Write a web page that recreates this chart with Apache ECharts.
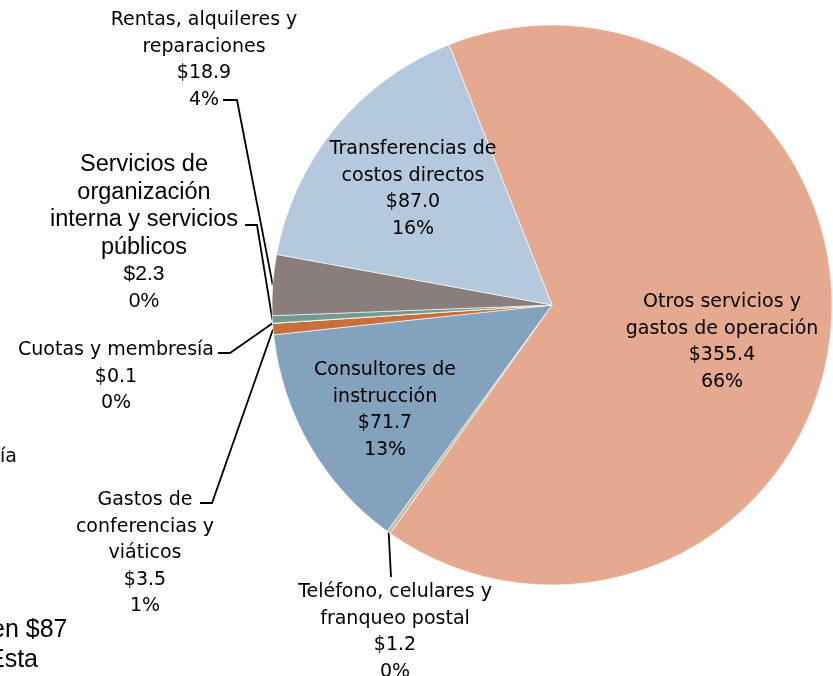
<!DOCTYPE html>
<html>
<head>
<meta charset="utf-8">
<script src="https://cdn.jsdelivr.net/npm/echarts@6/dist/echarts.min.js"></script>
<style>
  html, body { margin: 0; padding: 0; background: #fff; }
  #pie { width: 833px; height: 676px; }
</style>
</head>
<body>
<div id="pie"></div>
<script>
// categorías en orden horario desde "Otros servicios"
const names = [
  "Otros servicios y\ngastos de operación",
  "Teléfono, celulares y\nfranqueo postal",
  "Consultores de\ninstrucción",
  "Gastos de\nconferencias y\nviáticos",
  "Cuotas y membresía",
  "Servicios de\norganización\ninterna y servicios\npúblicos",
  "Rentas, alquileres y\nreparaciones",
  "Transferencias de\ncostos directos"
]
const values = [355.4, 1.2, 71.7, 3.5, 0.1, 2.3, 18.9, 87.0]
const percents = [66, 0, 13, 1, 0, 0, 4, 16]
const colors = [
  "#e5a98f", "#bfc0a6", "#83a2bd", "#c8703c",
  "#a8b86c", "#6f9b93", "#8a7e7c", "#b4c9dd"
]

const gill = "'DejaVu Sans', Lato, sans-serif"
const arial = "'Liberation Sans', Arial, sans-serif"

/* posición de cada etiqueta: centro x, borde superior y, codo de la guía */
const spots = [
  { x: 722, y: 289 },
  { x: 395, y: 579, elbow: null, end: [391, 577] },
  { x: 385, y: 357 },
  { x: 145, y: 487, elbow: [212, 503], end: [200, 503] },
  { x: 116, y: 337, elbow: [230, 353], end: [218, 353] },
  { x: 144, y: 151, elbow: [257, 225], end: [245, 225] },
  { x: 204, y: 7, elbow: [237, 100], end: [223, 100] },
  { x: 413, y: 136 }
]
const outside = [1, 3, 4, 5, 6]

const chart = echarts.init(document.getElementById("pie"), null, { renderer: "canvas" })

const data = names.map((n, i) => ({
  name: n,
  value: values[i],
  itemStyle: { color: colors[i] },
  label: { position: outside.includes(i) ? "outside" : "inside" },
  labelLine: { show: outside.includes(i) }
}))

const option = {
  animation: false,
  series: [{
    type: "pie",
    center: [552, 305],
    radius: 280,
    startAngle: 111.6,
    clockwise: true,
    avoidLabelOverlap: false,
    itemStyle: { borderColor: "#fff", borderWidth: 0.6 },
    label: {
      color: "#000",
      fontFamily: gill,
      fontSize: 19,
      lineHeight: 26.5,
      align: "center",
      formatter: (p) => {
        const i = p.dataIndex
        if (i === 5) {
          const big = p.name.split("\n").map((s) => "{big|" + s + "}").join("\n")
          return big + "\n{sm|$" + values[i].toFixed(1) + "}\n{sm|" + percents[i] + "%}"
        }
        return p.name + "\n$" + values[i].toFixed(1) + "\n" + percents[i] + "%"
      },
      rich: {
        big: { fontFamily: arial, fontSize: 23.5, lineHeight: 27.5, color: "#000" },
        sm: { fontFamily: arial, fontSize: 21, lineHeight: 26.5, color: "#000" }
      }
    },
    labelLine: {
      show: true,
      lineStyle: { color: "#000", width: 1.8 }
    },
    labelLayout: (p) => {
      const s = spots[p.dataIndex]
      const out = { x: s.x, y: s.y, align: "center", verticalAlign: "top" }
      if (outside.includes(p.dataIndex) && p.labelLinePoints) {
        const a = p.labelLinePoints[0]
        out.labelLinePoints = s.elbow ? [a, s.elbow, s.end] : [a, s.end, s.end]
      }
      return out
    },
    data: data
  }],
  graphic: [
    { type: "text", left: 0, top: 448, style: { text: "ía", font: "19px " + gill, fill: "#000" } },
    { type: "text", left: -9, top: 618, style: { text: "en $87", font: "25px " + arial, fill: "#000" } },
    { type: "text", left: -12, top: 648, style: { text: "Esta", font: "25px " + arial, fill: "#000" } }
  ]
}

chart.setOption(option)
</script>
</body>
</html>
